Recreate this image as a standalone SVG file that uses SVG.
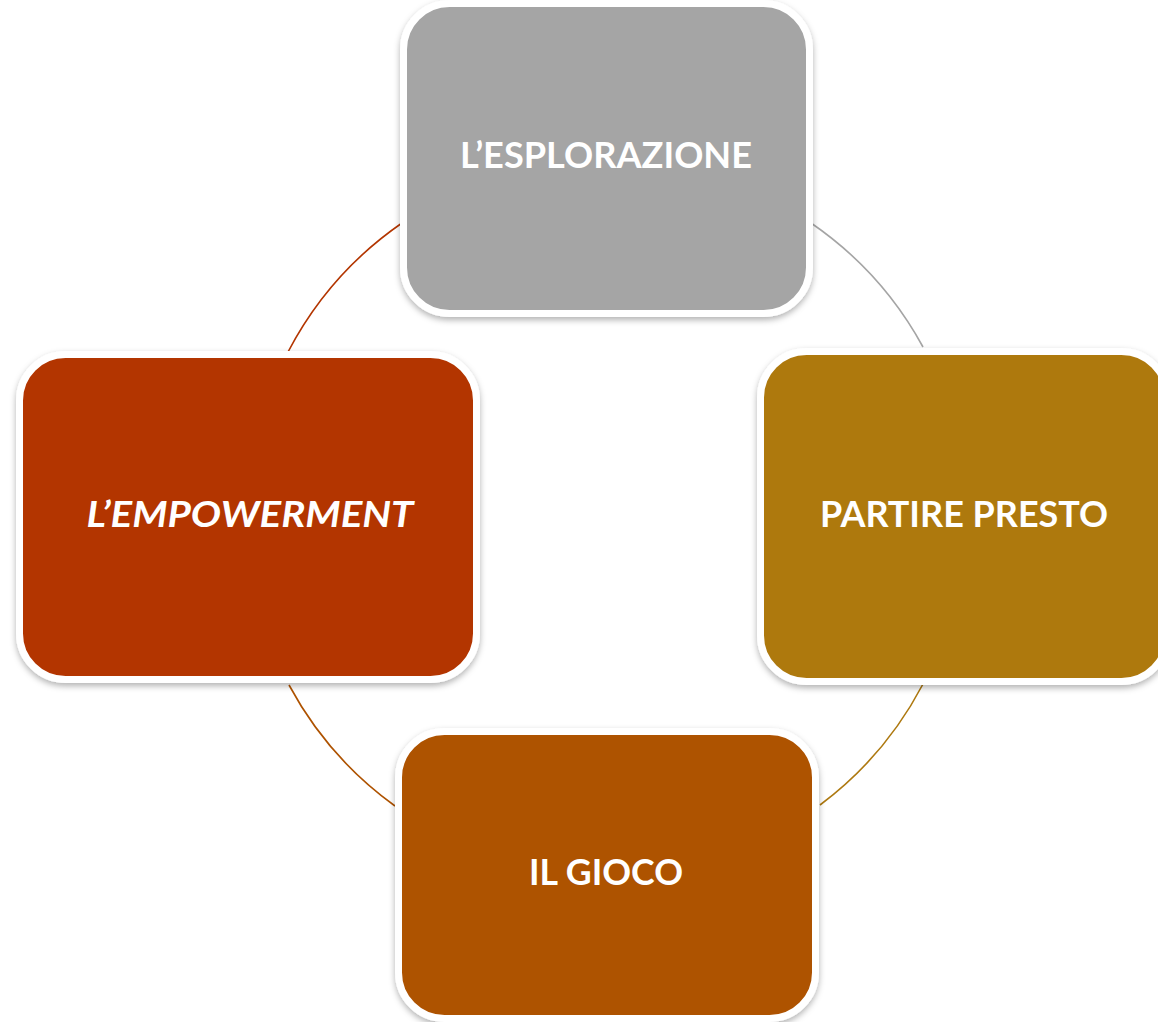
<svg xmlns="http://www.w3.org/2000/svg" width="1158" height="1022" viewBox="0 0 1158 1022">
  <defs>
    <filter id="shadow" x="-10%" y="-10%" width="120%" height="125%">
      <feDropShadow dx="0" dy="3" stdDeviation="3" flood-color="#000000" flood-opacity="0.3"/>
    </filter>
  </defs>
  <style>
    .box { stroke: #FFFFFF; stroke-width: 7; filter: url(#shadow); }
    .lbl { font-family: Lato, "Liberation Sans", sans-serif; font-weight: bold; font-size: 37px; fill: #FFFFFF; text-anchor: middle; }
    .conn { fill: none; stroke-width: 1.6; }
  </style>
  <rect width="1158" height="1022" fill="#FFFFFF"/>
  <g id="connectors">
    <path class="conn" stroke="#A5A5A5" d="M 811 223 A 358.5 358.5 0 0 1 923 347"/>
    <path class="conn" stroke="#AE7910" d="M 923 684 A 358.5 358.5 0 0 1 820 805"/>
    <path class="conn" stroke="#AE5200" d="M 395 806 A 358.5 358.5 0 0 1 289 685"/>
    <path class="conn" stroke="#B33500" d="M 288 352 A 358.5 358.5 0 0 1 402 223"/>
  </g>
  <g id="node-esplorazione">
    <rect class="box" x="403.5" y="3.5" width="406" height="310" rx="46" ry="46" fill="#A5A5A5"/>
    <text class="lbl" x="606" y="168" textLength="292" lengthAdjust="spacingAndGlyphs">L’ESPLORAZIONE</text>
  </g>
  <g id="node-partire-presto">
    <rect class="box" x="760.5" y="351.5" width="407" height="330" rx="46" ry="46" fill="#AE7910"/>
    <text class="lbl" x="964" y="527" textLength="288" lengthAdjust="spacingAndGlyphs">PARTIRE PRESTO</text>
  </g>
  <g id="node-il-gioco">
    <rect class="box" x="398.5" y="731.5" width="417" height="287" rx="46" ry="46" fill="#AE5200"/>
    <text class="lbl" x="606" y="885" textLength="154" lengthAdjust="spacingAndGlyphs">IL GIOCO</text>
  </g>
  <g id="node-empowerment">
    <rect class="box" x="19.5" y="354.5" width="457" height="325" rx="46" ry="46" fill="#B33500"/>
    <text class="lbl" x="250" y="527" font-style="italic" textLength="327" lengthAdjust="spacingAndGlyphs">L’EMPOWERMENT</text>
  </g>
</svg>
